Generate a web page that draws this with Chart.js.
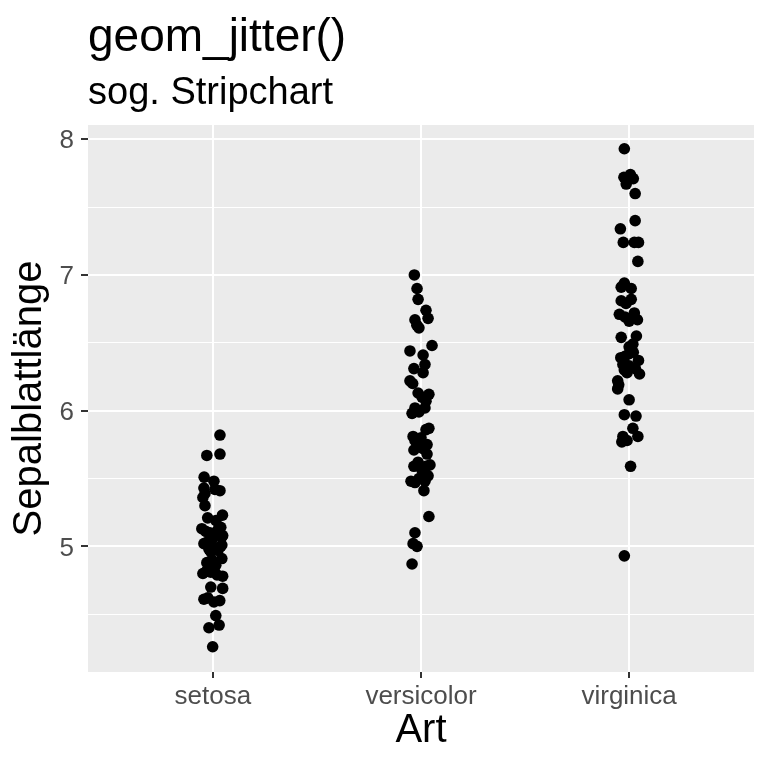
<!DOCTYPE html>
<html>
<head>
<meta charset="utf-8">
<script src="https://cdn.jsdelivr.net/npm/chart.js@4.4.0/dist/chart.umd.min.js"></script>
<style>
  html, body { margin: 0; background: #fff; }
  #wrap { width: 768px; height: 768px; }
</style>
</head>
<body>
<div id="wrap"><canvas id="chart" width="768" height="768"></canvas></div>
<script>
const TITLE    = 'geom_jitter()';
const SUBTITLE = 'sog. Stripchart';
const X_TITLE  = 'Art';
const Y_TITLE  = 'Sepalblattlänge';

const SPECIES = ['setosa', 'versicolor', 'virginica'];
const Y_TICKS = [5, 6, 7, 8];
const Y_MINOR = [4.5, 5.5, 6.5, 7.5];

// values; jitter = horizontal offset from the category centre
const setosaY = [5.82, 5.67, 5.68, 5.51, 5.48, 5.41, 5.43, 5.36, 5.39, 5.42,
  5.30, 5.23, 5.21, 5.19, 5.13, 5.12, 5.08, 5.11, 5.06, 5.09, 5.14, 5.10, 5.07,
  5.02, 5.00, 4.96, 4.97, 5.03, 4.99, 5.01, 4.98, 4.86, 4.88, 4.91, 4.90, 4.80,
  4.78, 4.82, 4.79, 4.81, 4.70, 4.69, 4.61, 4.59, 4.62, 4.60, 4.49, 4.40, 4.42, 4.26];
const setosaJitter = [0.034, -0.029, 0.034, -0.042, 0.005, 0.034, -0.043, -0.048, -0.038, 0.010,
  -0.038, 0.046, -0.025, 0.015, -0.053, 0.023, 0.047, -0.034, 0.000, 0.014, 0.038, -0.015, 0.043,
  -0.043, 0.038, -0.010, 0.024, -0.029, 0.005, 0.043, -0.019, 0.014, -0.029, 0.043, -0.005, -0.048,
  0.047, -0.030, 0.020, -0.010, -0.010, 0.047, -0.043, 0.005, -0.024, 0.033, 0.014, -0.019, 0.030, -0.001];

const versicolorY = [7.00, 6.90, 6.82, 6.74, 6.68, 6.67, 6.61, 6.63, 6.48, 6.44,
  6.41, 6.34, 6.31, 6.28, 6.22, 6.20, 6.13, 6.12, 6.07, 6.10, 6.02, 5.99, 6.02,
  5.98, 5.87, 5.86, 5.81, 5.78, 5.80, 5.76, 5.75, 5.71, 5.68, 5.72, 5.59, 5.59,
  5.62, 5.60, 5.56, 5.48, 5.48, 5.50, 5.52, 5.47, 5.41, 5.22, 5.10, 5.02, 5.00, 4.87];
const versicolorJitter = [-0.032, -0.019, -0.014, 0.024, 0.034, -0.029, -0.010, -0.020, 0.053, -0.053,
  0.010, 0.019, -0.034, 0.010, -0.053, -0.040, -0.014, 0.038, 0.024, 0.005, -0.029, -0.010, 0.019,
  -0.043, 0.038, 0.024, -0.038, -0.029, 0.000, -0.019, 0.029, -0.034, 0.029, 0.010, -0.034, 0.024,
  -0.014, 0.043, 0.005, -0.048, 0.019, -0.010, 0.034, -0.029, 0.014, 0.038, -0.029, -0.038, -0.019, -0.043];

const virginicaY = [7.93, 7.74, 7.72, 7.67, 7.71, 7.60, 7.40, 7.34, 7.24, 7.24,
  7.24, 7.10, 6.94, 6.91, 6.90, 6.82, 6.81, 6.79, 6.71, 6.72, 6.69, 6.67, 6.66,
  6.54, 6.55, 6.47, 6.49, 6.39, 6.37, 6.42, 6.40, 6.43, 6.30, 6.27, 6.33, 6.34,
  6.31, 6.28, 6.22, 6.19, 6.16, 6.08, 5.97, 5.96, 5.87, 5.81, 5.81, 5.78, 5.77, 5.59, 4.93];
const virginicaJitter = [-0.023, 0.006, -0.025, -0.014, 0.020, 0.029, 0.029, -0.042, -0.028, 0.025,
  0.045, 0.042, -0.023, -0.038, 0.010, 0.010, -0.038, -0.015, -0.047, 0.025, -0.020, 0.040, 0.000,
  -0.038, 0.035, 0.000, 0.018, -0.040, 0.045, 0.000, -0.020, 0.020, -0.023, 0.050, 0.000, -0.030,
  0.030, -0.010, -0.055, -0.050, -0.055, 0.000, -0.023, 0.033, 0.018, 0.042, -0.030, -0.010, -0.035, 0.007, -0.023];

const Y_MIN = 4.074;
const Y_MAX = 8.105;

const INK   = '#000000';
const PANEL = '#EBEBEB';
const TEXT  = '#4D4D4D';
const FONT  = '"Liberation Sans", Arial, Helvetica, sans-serif';

function toPoints(ys, jitter, idx) {
  return ys.map((y, i) => ({ x: idx + 1 + jitter[i], y }));
}

const isMinor = (v) => Y_MINOR.includes(v);

const panelBg = {
  id: 'panelBg',
  beforeDraw(chart) {
    const { ctx, chartArea: a } = chart;
    ctx.save();
    ctx.fillStyle = PANEL;
    ctx.fillRect(a.left, a.top, a.right - a.left, a.bottom - a.top);
    ctx.restore();
  },
};

const headings = {
  id: 'headings',
  afterDraw(chart) {
    const { ctx, chartArea: a } = chart;
    ctx.save();
    ctx.fillStyle = INK;
    ctx.textAlign = 'left';
    ctx.textBaseline = 'alphabetic';
    ctx.font = `46px ${FONT}`;
    ctx.fillText(TITLE, a.left, 51);
    ctx.font = `38px ${FONT}`;
    ctx.fillText(SUBTITLE, a.left, 104);
    ctx.restore();
  },
};

new Chart(document.getElementById('chart'), {
  type: 'scatter',
  data: {
    datasets: [
      { data: toPoints(setosaY, setosaJitter, 0) },
      { data: toPoints(versicolorY, versicolorJitter, 1) },
      { data: toPoints(virginicaY, virginicaJitter, 2) },
    ],
  },
  options: {
    responsive: false,
    animation: false,
    devicePixelRatio: 1,
    layout: { padding: { top: 125, right: 14, bottom: 0, left: 0 } },
    elements: {
      point: { radius: 5.8, backgroundColor: INK, borderWidth: 0, hoverRadius: 5.8 },
    },
    plugins: {
      legend: { display: false },
      tooltip: { enabled: false },
    },
    scales: {
      x: {
        type: 'linear',
        min: 0.4,
        max: 3.6,
        afterBuildTicks: (s) => { s.ticks = SPECIES.map((_, i) => ({ value: i + 1 })); },
        afterFit: (s) => { s.height = 96; },
        border: { display: false },
        grid: { color: '#FFFFFF', lineWidth: 2, tickColor: '#333333', tickLength: 6, tickWidth: 2 },
        ticks: {
          callback: (v) => SPECIES[v - 1],
          color: TEXT,
          font: { family: FONT, size: 26 },
          padding: 3,
          maxRotation: 0,
          autoSkip: false,
        },
        title: {
          display: true,
          text: X_TITLE,
          color: INK,
          font: { family: FONT, size: 40 },
          padding: { top: 0, bottom: 13 },
        },
      },
      y: {
        min: Y_MIN,
        max: Y_MAX,
        afterBuildTicks: (s) => {
          s.ticks = [...Y_MINOR, ...Y_TICKS].sort((a, b) => a - b).map((v) => ({ value: v }));
        },
        afterFit: (s) => { s.width = 88; },
        border: { display: false },
        grid: {
          color: '#FFFFFF',
          lineWidth: (c) => (isMinor(c.tick.value) ? 1 : 2),
          tickColor: (c) => (isMinor(c.tick.value) ? 'rgba(0,0,0,0)' : '#333333'),
          tickLength: 7,
          tickWidth: 2,
        },
        ticks: {
          callback: (v) => (isMinor(v) ? '' : v),
          color: TEXT,
          font: { family: FONT, size: 26 },
          padding: 7,
          labelOffset: 2,
        },
        title: {
          display: true,
          text: Y_TITLE,
          color: INK,
          font: { family: FONT, size: 40 },
          padding: { top: 6, bottom: 0 },
        },
      },
    },
  },
  plugins: [panelBg, headings],
});
</script>
</body>
</html>
